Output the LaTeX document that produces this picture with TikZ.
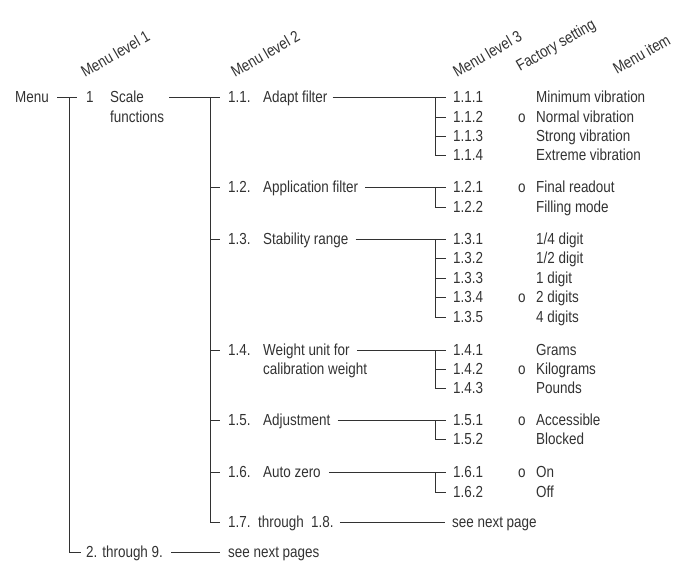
\documentclass[tikz,border=0pt]{standalone}
\usepackage{fontspec}
\setmainfont[FakeStretch=0.84]{Liberation Sans}
\definecolor{ink}{RGB}{50,50,50}
\begin{document}
\begin{tikzpicture}[x=1pt,y=-1pt,
  t/.style={inner sep=0pt, anchor=west, text height=11.4pt, text depth=0pt,
            font=\fontsize{16}{19}\selectfont, text=ink},
  hd/.style={inner sep=0pt, anchor=base west, rotate=30,
            font=\fontsize{16}{19}\selectfont, text=ink},
  ln/.style={draw=ink, line width=0.8pt}]
\useasboundingbox (0,0) rectangle (688,565);

% headers
\node[hd] (h1) at (85,78) {Menu level 1};
\node[hd] (h2) at (235,78) {Menu level 2};
\node[hd] (h3) at (457,78) {Menu level 3};
\node[hd] (h4) at (520,72) {Factory setting};
\node[hd] (h5) at (617,75) {Menu item};

% level 1
\node[t] (menu) at (15,97) {Menu};
\node[t] (one) at (86,97) {1};
\node[t] (scale) at (110,97) {Scale};
\node[t] (func) at (110,117) {functions};
\node[t] (two) at (86,552) {2. through 9.};
\node[t] (snp) at (228,552) {see next pages};
\coordinate (v1) at (69,97);

% level 2
\node[t] (n11) at (228,97) {1.1.};   \node[t] (t11) at (263,97) {Adapt filter};
\node[t] (n12) at (228,187) {1.2.};  \node[t] (t12) at (263,187) {Application filter};
\node[t] (n13) at (228,239) {1.3.};  \node[t] (t13) at (263,239) {Stability range};
\node[t] (n14) at (228,350) {1.4.};  \node[t] (t14) at (263,350) {Weight unit for};
\node[t] (t14b) at (263,369) {calibration weight};
\node[t] (n15) at (228,420) {1.5.};  \node[t] (t15) at (263,420) {Adjustment};
\node[t] (n16) at (228,472) {1.6.};  \node[t] (t16) at (263,472) {Auto zero};
\node[t] (n17) at (228,522) {1.7.};  \node[t] (t17) at (258,522) {through\ \ 1.8.};
\node[t] (snp2) at (452,522) {see next page};
\coordinate (v2) at (210,97);

% level 3
\node[t] (m111) at (453,97) {1.1.1};  \node[t] (i111) at (536,97) {Minimum vibration};
\node[t] (m112) at (453,117) {1.1.2}; \node[t] (f112) at (518,117) {o}; \node[t] (i112) at (536,117) {Normal vibration};
\node[t] (m113) at (453,136) {1.1.3}; \node[t] (i113) at (536,136) {Strong vibration};
\node[t] (m114) at (453,155) {1.1.4}; \node[t] (i114) at (536,155) {Extreme vibration};

\node[t] (m121) at (453,187) {1.2.1}; \node[t] (f121) at (518,187) {o}; \node[t] (i121) at (536,187) {Final readout};
\node[t] (m122) at (453,207) {1.2.2}; \node[t] (i122) at (536,207) {Filling mode};

\node[t] (m131) at (453,239) {1.3.1}; \node[t] (i131) at (536,239) {1/4 digit};
\node[t] (m132) at (453,258) {1.3.2}; \node[t] (i132) at (536,258) {1/2 digit};
\node[t] (m133) at (453,278) {1.3.3}; \node[t] (i133) at (536,278) {1 digit};
\node[t] (m134) at (453,297) {1.3.4}; \node[t] (f134) at (518,297) {o}; \node[t] (i134) at (536,297) {2 digits};
\node[t] (m135) at (453,317) {1.3.5}; \node[t] (i135) at (536,317) {4 digits};

\node[t] (m141) at (453,350) {1.4.1}; \node[t] (i141) at (536,350) {Grams};
\node[t] (m142) at (453,369) {1.4.2}; \node[t] (f142) at (518,369) {o}; \node[t] (i142) at (536,369) {Kilograms};
\node[t] (m143) at (453,388) {1.4.3}; \node[t] (i143) at (536,388) {Pounds};

\node[t] (m151) at (453,420) {1.5.1}; \node[t] (f151) at (518,420) {o}; \node[t] (i151) at (536,420) {Accessible};
\node[t] (m152) at (453,439) {1.5.2}; \node[t] (i152) at (536,439) {Blocked};

\node[t] (m161) at (453,472) {1.6.1}; \node[t] (f161) at (518,472) {o}; \node[t] (i161) at (536,472) {On};
\node[t] (m162) at (453,492) {1.6.2}; \node[t] (i162) at (536,492) {Off};

% level 1 connectors
\draw[ln] ([xshift=8pt]menu.east) -- ([xshift=-9pt]one.west);
\draw[ln] (v1) |- ([xshift=-5pt]two.west);
\draw[ln] ([xshift=8pt]two.east) -- ([xshift=-8pt]snp.west);
\draw[ln] ([xshift=5pt]func.east |- scale.west) -- ([xshift=-8pt]n11.west);

% level 2 connectors
\draw[ln] (v2) |- ([xshift=-8pt]n17.west);
\foreach \n in {n12,n13,n14,n15,n16}
  \draw[ln] (v2 |- \n.west) -- ([xshift=-8pt]\n.west);
\draw[ln] ([xshift=5pt]t11.east) -- ([xshift=-7pt]m111.west);
\draw[ln] ([xshift=7pt]t12.east) -- ([xshift=-7pt]m121.west);
\draw[ln] ([xshift=7pt]t13.east) -- ([xshift=-7pt]m131.west);
\draw[ln] ([xshift=7pt]t14.east) -- ([xshift=-7pt]m141.west);
\draw[ln] ([xshift=7pt]t15.east) -- ([xshift=-7pt]m151.west);
\draw[ln] ([xshift=8pt]t16.east) -- ([xshift=-7pt]m161.west);
\draw[ln] ([xshift=6pt]t17.east) -- ([xshift=-7pt]snp2.west);

% level 3 brackets
\draw[ln] ([xshift=-18pt]m111.west) |- ([xshift=-7pt]m114.west);
\draw[ln] ([xshift=-18pt]m121.west) |- ([xshift=-7pt]m122.west);
\draw[ln] ([xshift=-18pt]m131.west) |- ([xshift=-7pt]m135.west);
\draw[ln] ([xshift=-18pt]m141.west) |- ([xshift=-7pt]m143.west);
\draw[ln] ([xshift=-18pt]m151.west) |- ([xshift=-7pt]m152.west);
\draw[ln] ([xshift=-18pt]m161.west) |- ([xshift=-7pt]m162.west);
\foreach \m in {m112,m113,m132,m133,m134,m142}
  \draw[ln] ([xshift=-18pt]\m.west) -- ([xshift=-7pt]\m.west);
\end{tikzpicture}
\end{document}
